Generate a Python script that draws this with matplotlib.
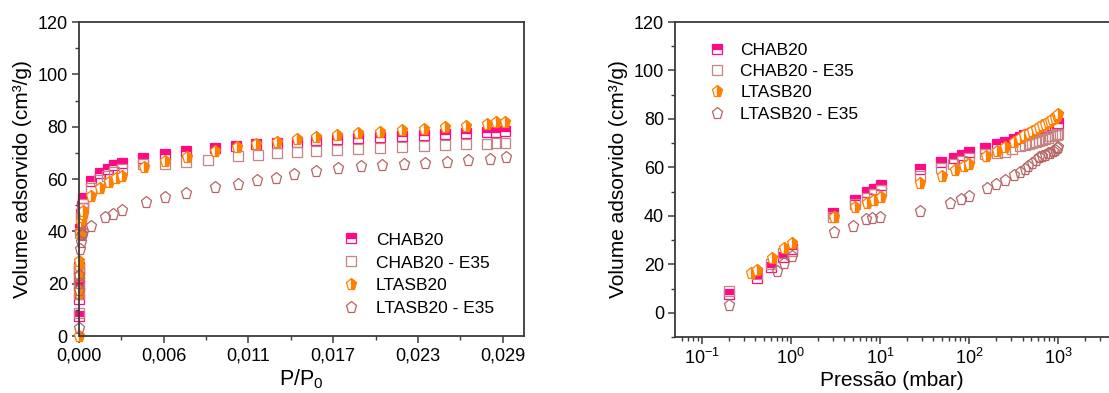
import numpy as np
import matplotlib
matplotlib.use('Agg')
import matplotlib.pyplot as plt
from matplotlib.ticker import MultipleLocator, LogLocator, NullFormatter

plt.rcParams['font.family'] = ['Liberation Sans', 'DejaVu Sans']
plt.rcParams['mathtext.fontset'] = 'custom'
plt.rcParams['mathtext.rm'] = 'Liberation Sans'
plt.rcParams['mathtext.it'] = 'Liberation Sans'

## CO2 isotherms, same points shown against P/P0 (left) and pressure in mbar (right)
P0 = 34850.0  # saturation pressure, mbar

p_chab = [0.2, 0.42, 0.6, 0.82, 1.02, 3.0, 5.2, 7.1, 8.6, 10.3, 28, 49, 68, 84, 101, 152, 204, 253,
          322, 372, 419, 468, 516, 561, 611, 660, 712, 764, 815, 866, 916, 966, 987, 1007]
v_chab = [7.8, 14.2, 19.0, 23.0, 26.3, 41.0, 46.6, 49.8, 51.0, 52.6, 59.3, 62.3, 64.0, 65.2, 66.2, 68.2, 69.6, 70.6,
          71.7, 72.6, 73.2, 73.8, 74.3, 74.8, 75.3, 75.8, 76.2, 76.6, 77.0, 77.3, 77.6, 77.9, 78.0, 78.2]

p_chab_e = [0.2, 0.42, 0.6, 0.82, 1.02, 3.0, 5.2, 7.1, 8.6, 10.3, 28, 48, 67, 83, 101, 152, 204, 253,
            304, 375, 423, 468, 516, 561, 611, 660, 712, 764, 815, 866, 916, 966, 987, 1007]
v_chab_e = [8.8, 16.0, 20.0, 24.5, 25.5, 39.5, 45.0, 47.5, 49.0, 50.5, 56.6, 59.7, 61.3, 62.6, 64.0, 65.6, 65.8, 66.5,
            67.4, 68.7, 69.3, 69.8, 70.2, 70.6, 70.9, 71.5, 71.9, 72.3, 72.8, 73.1, 73.3, 73.5, 73.7, 73.9]

p_ltasb = [0, 0.36, 0.42, 0.62, 0.83, 1.03, 3.07, 5.2, 7.1, 8.6, 10.3, 28, 50, 70, 87, 101, 154, 204, 255,
           322, 374, 419, 468, 516, 561, 611, 660, 712, 764, 815, 866, 916, 966, 987, 1007]
v_ltasb = [0, 16.3, 17.5, 22.8, 26.6, 28.7, 39.5, 43.6, 45.5, 46.6, 47.6, 53.6, 56.6, 59.0, 60.4, 61.3, 64.5, 66.8, 68.4,
           70.6, 72.1, 73.2, 74.0, 75.1, 75.9, 76.7, 77.4, 78.0, 78.6, 79.3, 79.9, 80.4, 81.2, 81.7, 81.9]

p_ltasb_e = [0.2, 0.70, 0.83, 1.03, 3.07, 5.05, 7.0, 8.1, 10.0, 28, 61, 81, 101, 158, 203, 253, 321, 375, 421,
             466, 508, 561, 612, 666, 717, 768, 819, 870, 921, 971, 1010]
v_ltasb_e = [3.2, 17.4, 20.4, 23.5, 33.2, 36.0, 38.6, 39.0, 39.7, 42.2, 45.4, 46.8, 48.3, 51.3, 53.1, 54.7, 57.0, 58.2, 59.5,
             60.4, 62.0, 63.2, 64.2, 64.8, 65.2, 65.8, 66.1, 66.6, 67.1, 67.8, 68.3]

labels = ['CHAB20', 'CHAB20 - E35', 'LTASB20', 'LTASB20 - E35']
xtick_left = [0, 0.00575, 0.0115, 0.01725, 0.023, 0.02875]
xtick_left_lab = ['0,000', '0,006', '0,011', '0,017', '0,023', '0,029']

series = [
    (p_chab, v_chab, dict(marker='s', ms=6.5, fillstyle='top', mfc='#ff0a84', mfcalt='white', mec='#ff0a84', mew=0.9)),
    (p_chab_e, v_chab_e, dict(marker='s', ms=6.5, mfc='none', mec='#c48484', mew=0.9)),
    (p_ltasb, v_ltasb, dict(marker='p', ms=8.3, fillstyle='right', mfc='#ff8000', mfcalt='white', mec='#ff8000', mew=0.9)),
    (p_ltasb_e, v_ltasb_e, dict(marker='p', ms=8.3, mfc='none', mec='#b86464', mew=0.9)),
]

fig = plt.figure(figsize=(11.09, 3.93), dpi=100)
ax1 = fig.add_axes([0.0712, 0.145, 0.4013, 0.799])
ax2 = fig.add_axes([0.6087, 0.1425, 0.3913, 0.8015])

for (p, v, st), lab in zip(series, labels):
    p = np.array(p, dtype=float)
    v = np.array(v, dtype=float)
    ax1.plot(p / P0, v, ls='none', label=lab, clip_on=False, **st)
    m = p > 0
    ax2.plot(p[m], v[m], ls='none', label=lab, **st)

# left panel
ax1.set_xlim(0, 0.0302)
ax1.set_ylim(0, 120)
ax1.set_xticks(xtick_left)
ax1.set_xticklabels(xtick_left_lab)
ax1.xaxis.set_minor_locator(MultipleLocator(0.002875))
ax1.yaxis.set_major_locator(MultipleLocator(20))
ax1.yaxis.set_minor_locator(MultipleLocator(10))
ax1.set_xlabel('P/P$_0$', fontsize=15.5, labelpad=2)
ax1.set_ylabel('Volume adsorvido (cm³/g)', fontsize=15, labelpad=4)

# right panel
ax2.set_xscale('log')
ax2.set_xlim(0.0501, 3740)
ax2.set_ylim(-10, 120)
ax2.xaxis.set_major_locator(LogLocator(base=10, numticks=10))
ax2.xaxis.set_minor_locator(LogLocator(base=10, subs=np.arange(2, 10), numticks=20))
ax2.xaxis.set_minor_formatter(NullFormatter())
ax2.yaxis.set_major_locator(MultipleLocator(20))
ax2.yaxis.set_minor_locator(MultipleLocator(10))
ax2.set_xlabel('Pressão (mbar)', fontsize=15, labelpad=2)
ax2.set_ylabel('Volume adsorvido (cm³/g)', fontsize=15, labelpad=4)
ax2.spines['right'].set_visible(False)

for ax in (ax1, ax2):
    for s in ax.spines.values():
        s.set_color('#3a3a3a')
        s.set_linewidth(1.3)
    ax.tick_params(which='major', direction='out', length=5, width=1.1, color='#3a3a3a', labelsize=13, pad=3)
    ax.tick_params(which='minor', direction='out', length=3, width=1.0, color='#3a3a3a')
    ax.tick_params(axis='y', which='both', right=False)
    ax.tick_params(axis='x', which='both', top=False)

ax1.legend(loc='upper left', bbox_to_anchor=(0.591, 0.33), frameon=False, fontsize=12.5,
           numpoints=1, handlelength=1.0, handletextpad=0.95, labelspacing=0.45,
           borderpad=0, borderaxespad=0)
ax2.legend(loc='upper left', bbox_to_anchor=(0.076, 0.935), frameon=False, fontsize=12.5,
           numpoints=1, handlelength=1.0, handletextpad=0.85, labelspacing=0.36,
           borderpad=0, borderaxespad=0)

fig.savefig('out.png', dpi=100)
